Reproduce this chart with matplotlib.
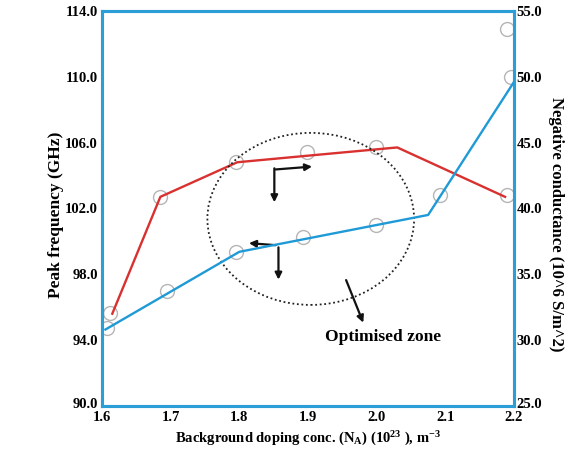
import matplotlib
matplotlib.use("Agg")
import matplotlib.pyplot as plt
import matplotlib.transforms as mtransforms
from matplotlib.patches import Ellipse

# Line data (red: peak frequency, left axis; blue: negative conductance, right axis)
red_x = [1.615, 1.685, 1.797, 1.90, 2.03, 2.187]
red_y = [95.6, 102.7, 104.8, 105.2, 105.7, 102.7]
blue_x = [1.605, 1.80, 2.075, 2.20]
blue_y = [30.8, 36.7, 39.5, 49.6]

# Marker (open circle) data
red_mx = [1.612, 1.685, 1.795, 1.899, 1.999, 2.19]
red_my = [95.65, 102.7, 104.8, 105.4, 105.7, 102.8]
blue_mx = [1.607, 1.695, 1.795, 1.893, 1.999, 2.092, 2.195, 2.19]
blue_my = [30.9, 33.7, 36.7, 37.8, 38.75, 41.0, 50.0, 53.6]

x_ticks = [1.6, 1.7, 1.8, 1.9, 2.0, 2.1, 2.2]
left_ticks = [90.0, 94.0, 98.0, 102.0, 106.0, 110.0, 114.0]
right_ticks = [25.0, 30.0, 35.0, 40.0, 45.0, 50.0, 55.0]

plt.rcParams['font.family'] = ['Liberation Serif', 'DejaVu Serif']
plt.rcParams['mathtext.fontset'] = 'custom'
plt.rcParams['mathtext.rm'] = 'Liberation Serif:bold'
plt.rcParams['mathtext.it'] = 'Liberation Serif:bold'
plt.rcParams['mathtext.bf'] = 'Liberation Serif:bold'

SPINE = '#2b9ed8'
RED = '#d8312f'
BLUE = '#1f9ad6'
GRAY = '#b5b5b5'

fig = plt.figure(figsize=(5.73, 4.5), dpi=100)
ax = fig.add_axes([0.178, 0.098, 0.719, 0.878])
ax2 = ax.twinx()

ax.set_xlim(1.6, 2.2)
ax.set_ylim(90, 114)
ax2.set_ylim(25, 55)

ax.plot(red_x, red_y, color=RED, lw=1.7, zorder=3)
ax.plot(red_mx, red_my, ls='none', marker='o', ms=10, mfc='none', mec=GRAY, mew=1.0, zorder=2)
ax2.plot(blue_x, blue_y, color=BLUE, lw=1.7, zorder=3)
ax2.plot(blue_mx, blue_my, ls='none', marker='o', ms=10, mfc='none', mec=GRAY, mew=1.0, zorder=2)

for a in (ax, ax2):
    for s in a.spines.values():
        s.set_color(SPINE)
        s.set_linewidth(2.2)

ax.set_xticks(x_ticks)
ax.set_xticklabels([f"{v:.1f}" for v in x_ticks], fontweight='bold', fontsize=10.5)
ax.set_yticks(left_ticks)
ax.set_yticklabels([f"{v:.1f}" for v in left_ticks], fontweight='bold', fontsize=10.5)
ax2.set_yticks(right_ticks)
ax2.set_yticklabels([f"{v:.1f}" for v in right_ticks], fontweight='bold', fontsize=10.5)
ax.tick_params(axis='x', length=0, pad=4)
ax.tick_params(axis='y', length=0, pad=3)
ax2.tick_params(axis='y', length=0, pad=2)
# nudge bottom y labels upward slightly like the reference
up = mtransforms.ScaledTranslation(0, 3 / 100, fig.dpi_scale_trans)
for lbl in ax.get_yticklabels()[:1] + ax2.get_yticklabels()[:1]:
    lbl.set_transform(lbl.get_transform() + up)

ax.set_ylabel("Peak frequency (GHz)", fontweight='bold', fontsize=12.5)
ax.yaxis.set_label_coords(-0.093, 0.484)
ax2.set_ylabel("Negative conductance (10^6 S/m^2)", fontweight='bold', fontsize=12,
               rotation=270)
ax2.yaxis.set_label_coords(1.122, 0.46)
ax.set_xlabel(r"Background doping conc. (N$_{\mathregular{A}}$) (10$^{\mathregular{23}}$ ), m$^{\mathregular{-3}}$",
              fontweight='bold', fontsize=10.5, labelpad=4)

# Dotted circle (optimised zone)
ell = Ellipse((1.904, 101.36), 0.301, 10.45, fill=False, ls=(0, (1, 1.5)), lw=1.3, color='#222222', zorder=4)
ax.add_patch(ell)

akw = dict(arrowstyle='-|>', color='#111111', lw=1.6, mutation_scale=10)
# red-side L arrows
ax.annotate('', xy=(1.851, 102.2), xytext=(1.851, 104.6), arrowprops=akw)
ax.annotate('', xy=(1.910, 104.55), xytext=(1.849, 104.35), arrowprops=akw)
# blue-side L arrows
ax.annotate('', xy=(1.810, 99.9), xytext=(1.857, 99.75), arrowprops=akw)
ax.annotate('', xy=(1.857, 97.5), xytext=(1.857, 99.8), arrowprops=akw)
# diagonal arrow
ax.annotate('', xy=(1.982, 94.9), xytext=(1.954, 97.8), arrowprops=akw)

ax.text(2.009, 94.2, "Optimised zone", fontweight='bold', fontsize=12.5, ha='center', va='center')

fig.savefig("out.png", dpi=100)
